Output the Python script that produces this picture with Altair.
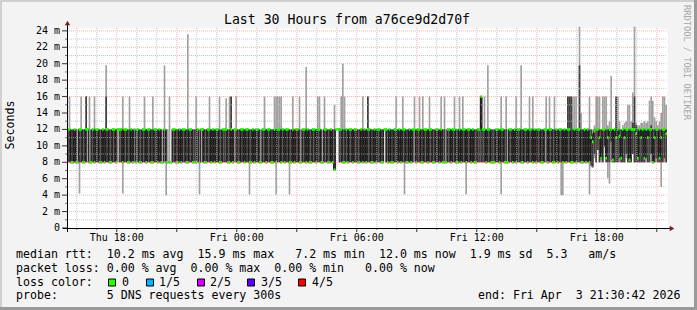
import altair as alt
import pandas as pd

FONT = "DejaVu Sans Mono"

TITLE = "Last 30 Hours from a76ce9d2d70f"
Y_TITLE = "Seconds"
WATERMARK = "RRDTOOL / TOBI OETIKER"

X_SPAN_HOURS = 30.0            # Thu 15:30:42 .. Fri 21:30:42
STEP_HOURS = 5 / 60            # 300 s steps
X_TICK_HOURS = [2.48833, 8.48833, 14.48833, 20.48833, 26.48833]
X_TICK_LABELS = ["Thu 18:00", "Fri 00:00", "Fri 06:00", "Fri 12:00", "Fri 18:00"]
HOUR_MARKS = [0.48833 + k for k in range(30)]          # Thu 16:00 .. Fri 21:00
MAJOR_HOUR_MARKS = [h for k, h in enumerate(HOUR_MARKS) if k % 3 == 2]
MINOR_HOUR_MARKS = [h for k, h in enumerate(HOUR_MARKS) if k % 3 != 2]

Y_MAX = 24.35
Y_LABEL_VALUES = list(range(0, 25, 2))
Y_MINOR_VALUES = list(range(1, 24, 2))

# one char per 300 s step: h/l = median 12/8 ms with dark smoke 8..12,
# H/L = median 12/8 with light smoke only, w/v = median 12/8, no smoke
PATTERN = (
    "hhllhl" "L" "hhllh" "HLlH" "lhhllhlhhllhhl" "w" "hhlhhllhl" "HLH" "llhhlhhllhhlhl" "LHl"
    "Lvv" "hhllhlhhllhhlll" "HLH" "hllhhlhlhhllhhhllhl" "Hh" "llhhlhhllhlhhlLhhl"
    "hhllhlhhlH" "lhhllhlhhl" "Lhhlhllhhl" "hhlLhhllhl" "l" "ww" "hhllHlhhlhhllhlhl"
    "hhllhlhhllwhLhllhhlh" "lhhllhlhHlhhllhhlhhl" "lhhlhllLhhlhhllhlhhl"
    "hhlhllhhlhhlhhlllhhl" "hhllLhhlhlhhllhhlhhl" "hlhhllhHlhhllhlhhlhl"
    "hhllhlhhllhl"
)

# step index -> max ping (ms), light smoke spikes
UP = {1: 16, 8: 16, 11: 16, 13: 16, 16: 16, 23: 19.8, 33: 16, 37: 16, 46: 16, 51: 16,
      58: 19.8, 61: 16, 72: 23.6, 77: 16, 85: 16, 91: 16, 95: 15.8, 97: 16, 98: 16,
      101: 16, 118: 16, 124: 16, 125: 16, 126: 16, 127: 16, 128: 16, 135: 16, 139: 16,
      143: 19.6, 150: 16, 151: 16, 154: 16, 160: 15, 164: 16, 165: 20, 166: 16, 177: 16,
      180: 16, 197: 16, 201: 16, 208: 16, 211: 16, 213: 16, 217: 16, 224: 16, 226: 16,
      232: 16, 235: 16, 237: 16, 248: 16, 250: 16, 252: 19.8, 260: 16, 263: 16, 269: 16,
      272: 19.8, 277: 16, 279: 16, 287: 16, 289: 16, 292: 16, 300: 16, 301: 16, 302: 16,
      303: 16, 304: 16, 305: 16, 307: 24.5, 308: 14}
DARK_UP = {11: 16, 23: 16, 98: 16, 180: 16, 248: 16, 300: 16, 301: 16, 302: 16, 307: 19.8}
DOWN = {7: 4.2, 33: 4.2, 59: 4.0, 79: 4.1, 109: 4.1, 125: 4.1, 133: 4.1, 160: 7.1,
        202: 4.1, 239: 4.1, 260: 4.1, 296: 4.0, 297: 4.0}
DARK_DOWN = {160: 7.1}
MED_FIX = {160: 7.1, 248: 16}

# last 4 hours (steps 312..359), read step by step
RIGHT_MED = [12, 8, 11, 10.5, 11.8, 12, 12, 11, 8.5, 12, 12, 8.5, 11, 12, 12, 8.3, 12, 11,
             12, 11.2, 8.5, 12, 11, 12, 12, 8.3, 12, 12, 12, 11.5, 8.5, 12, 11, 12, 8.5, 12,
             11, 12, 12, 8, 11, 12, 12, 8.5, 11, 12, 12, 11.5]
RIGHT_MIN = [8, 4.1, 7.4, 7.3, 8.5, 8, 9.5, 8, 8, 8, 9.8, 8, 6.1, 5.4, 8, 8, 8, 8, 8, 8, 8,
             8, 8, 8.5, 8, 8, 8, 9, 8, 8, 8, 8, 8, 8, 8, 8, 8, 8, 9, 8, 8, 8, 8, 8, 5, 8, 8, 8]
RIGHT_P2 = [8, 8, 7.6, 7.5, 9, 8, 9.5, 8, 8.3, 8, 10, 8, 8, 8, 10.5, 8, 8, 8, 8, 8.5, 8, 8,
            8, 9, 8, 8, 8, 9, 8, 8, 8, 8, 8, 8, 8, 8.5, 8, 8, 9, 8, 8, 8.5, 8, 8, 8, 8, 8.5, 8]
RIGHT_P4 = [12, 12, 12, 11.5, 12, 12, 12, 12, 12, 12, 12, 12, 12, 12, 12, 12, 12, 16, 12, 12,
            12, 12, 12, 12, 12, 12, 12, 12.8, 16, 12.5, 12, 12, 12, 12, 12, 12, 12, 12, 12.5,
            12, 12, 12, 12, 12, 12, 12, 12, 12]
RIGHT_MAX = [12, 16, 12, 12, 12.5, 16, 16, 16, 12, 16, 16, 16, 12.5, 13, 18.5, 12, 12, 16,
             16, 13, 12, 12.5, 12.8, 13, 15, 15, 13, 16.5, 24.5, 12.8, 12.5, 12.5, 12.8,
             12.8, 13, 12.8, 13, 15.5, 16, 15.5, 13.5, 13, 12.5, 13, 14, 16, 16, 15]

STAT_RTT = "median rtt:  10.2 ms avg  15.9 ms max   7.2 ms min  12.0 ms now  1.9 ms sd  5.3   am/s"
STAT_LOSS = "packet loss: 0.00 % avg  0.00 % max  0.00 % min   0.00 % now"
LOSS_TITLE = "loss color:"
LOSS_LABELS = ["0", "1/5", "2/5", "3/5", "4/5"]
LOSS_COLORS = ["#26ff00", "#00b8ff", "#d400ff", "#5a00ff", "#ff0000"]
PROBE = "probe:       5 DNS requests every 300s"
END = "end: Fri Apr  3 21:30:42 2026"

# ---------------------------------------------------------------- build table
rows = []
for i, c in enumerate(PATTERN):
    med = 12.0 if c in "hHw" else 8.0
    lo1, hi1 = 8.0, 12.0
    if c in "hl":
        lo2, hi2 = 8.0, 12.0
    elif c in "HL":
        lo2 = hi2 = med
    else:
        lo1 = hi1 = lo2 = hi2 = med
    rows.append(dict(i=i, med=MED_FIX.get(i, med), lo1=DOWN.get(i, lo1), hi1=UP.get(i, hi1),
                     lo2=DARK_DOWN.get(i, lo2), hi2=DARK_UP.get(i, hi2)))
for j in range(len(RIGHT_MED)):
    rows.append(dict(i=len(PATTERN) + j, med=RIGHT_MED[j], lo1=RIGHT_MIN[j], hi1=RIGHT_MAX[j],
                     lo2=RIGHT_P2[j], hi2=RIGHT_P4[j]))
df = pd.DataFrame(rows)
df["t"] = df["i"] * STEP_HOURS
df["t2"] = (df["i"] + 1) * STEP_HOURS
GREEN_HALF = 0.17
df["gl"] = df["med"] - GREEN_HALF
df["gh"] = df["med"] + GREEN_HALF

line_df = pd.concat([df[["t", "med"]],
                     pd.DataFrame({"t": [X_SPAN_HOURS], "med": [df["med"].iloc[-1]]})])

XS = alt.Scale(domain=[0, X_SPAN_HOURS], nice=False, zero=False)
YS = alt.Scale(domain=[0, Y_MAX], nice=False, zero=False)


def X(f):
    return alt.X(f, scale=XS, axis=None)


def Y(f):
    return alt.Y(f, scale=YS, axis=None)


def one():
    return alt.Chart(pd.DataFrame({"k": [0]}))


def keep_spaces(s):
    return s.replace(" ", "\u00a0")


def text(s, x, y, **kw):
    props = dict(font=FONT, fontSize=11.6, color="#000000", align="left", baseline="middle")
    props.update(kw)
    return alt.Chart(pd.DataFrame({"s": [keep_spaces(s)]})).mark_text(**props).encode(
        x=alt.value(x), y=alt.value(y), text="s:N")


LIGHT = "#a0a0a0"
DARK = "#3e3e3e"
MEDLINE = "#101010"
GREEN = LOSS_COLORS[0]
ARROW = "#7f1d1d"

light = alt.Chart(df).mark_rect(color=LIGHT, strokeWidth=0).encode(
    x=X("t:Q"), x2="t2:Q", y=Y("lo1:Q"), y2="hi1:Q")
dark = alt.Chart(df).mark_rect(color=DARK, strokeWidth=0).encode(
    x=X("t:Q"), x2="t2:Q", y=Y("lo2:Q"), y2="hi2:Q")
medline = alt.Chart(line_df).mark_line(interpolate="step-after", color=MEDLINE, strokeWidth=1).encode(
    x=X("t:Q"), y=Y("med:Q"))
green = alt.Chart(df).mark_rect(color=GREEN, strokeWidth=0).encode(
    x=X("t:Q"), x2="t2:Q", y=Y("gl:Q"), y2="gh:Q")

MINOR_GRID = dict(color="#b4b4b4", strokeDash=[1, 1], strokeWidth=1, opacity=0.75)
MAJOR_GRID = dict(color="#f07070", strokeDash=[1, 1], strokeWidth=1, opacity=0.5)

gy_minor = alt.Chart(pd.DataFrame({"v": Y_MINOR_VALUES})).mark_rule(**MINOR_GRID).encode(
    y=Y("v:Q"), x=alt.value(0), x2=alt.value(600))
gy_major = alt.Chart(pd.DataFrame({"v": Y_LABEL_VALUES[1:]})).mark_rule(**MAJOR_GRID).encode(
    y=Y("v:Q"), x=alt.value(0), x2=alt.value(600))
gx_minor = alt.Chart(pd.DataFrame({"h": MINOR_HOUR_MARKS})).mark_rule(**MINOR_GRID).encode(
    x=X("h:Q"), y=alt.value(0), y2=alt.value(200))
gx_major = alt.Chart(pd.DataFrame({"h": MAJOR_HOUR_MARKS})).mark_rule(**MAJOR_GRID).encode(
    x=X("h:Q"), y=alt.value(0), y2=alt.value(200))

yticks = alt.Chart(pd.DataFrame({"v": Y_LABEL_VALUES})).mark_rule(color="#333333").encode(
    y=Y("v:Q"), x=alt.value(-5), x2=alt.value(0))
ymticks = alt.Chart(pd.DataFrame({"v": Y_MINOR_VALUES})).mark_rule(color="#777777").encode(
    y=Y("v:Q"), x=alt.value(-2), x2=alt.value(0))
xticks = alt.Chart(pd.DataFrame({"h": MAJOR_HOUR_MARKS})).mark_rule(color="#333333").encode(
    x=X("h:Q"), y=alt.value(200), y2=alt.value(204))
xmticks = alt.Chart(pd.DataFrame({"h": MINOR_HOUR_MARKS})).mark_rule(color="#777777").encode(
    x=X("h:Q"), y=alt.value(200), y2=alt.value(202))

xaxis = one().mark_rule(color="#000000", strokeWidth=1).encode(
    x=alt.value(-4), x2=alt.value(603), y=alt.value(200.5))
yaxis = one().mark_rule(color="#000000", strokeWidth=1).encode(
    x=alt.value(0.5), y=alt.value(-4), y2=alt.value(204))
arrow_up = one().mark_point(shape="triangle-up", filled=True, size=28, color=ARROW, opacity=1).encode(
    x=alt.value(0.5), y=alt.value(-5))
arrow_right = one().mark_point(shape="triangle-right", filled=True, size=28, color=ARROW, opacity=1).encode(
    x=alt.value(605), y=alt.value(200.5))

ylab_df = pd.DataFrame({"v": Y_LABEL_VALUES,
                        "lab": ["0" if v == 0 else f"{v}\u00a0m" for v in Y_LABEL_VALUES]})
ylabels = alt.Chart(ylab_df).mark_text(font=FONT, fontSize=10, align="right", baseline="middle",
                                       color="#000000").encode(
    y=Y("v:Q"), x=alt.value(-7), text="lab:N")
xlab_df = pd.DataFrame({"h": X_TICK_HOURS, "lab": [keep_spaces(s) for s in X_TICK_LABELS]})
xlabels = alt.Chart(xlab_df).mark_text(font=FONT, fontSize=10, align="center", baseline="middle",
                                       color="#000000").encode(
    x=X("h:Q"), y=alt.value(209.5), text="lab:N")

# legend squares (layout in pixels relative to plot origin)
LOSS_BOX_X = [41, 79, 130, 180, 231]
LOSS_TEXT_X = [55, 92, 143, 194, 245]
boxes = []
for k in range(len(LOSS_LABELS)):
    boxes.append(one().mark_rect(color=LOSS_COLORS[k], stroke="#000000", strokeWidth=1).encode(
        x=alt.value(LOSS_BOX_X[k] + 0.5), x2=alt.value(LOSS_BOX_X[k] + 7.5),
        y=alt.value(251), y2=alt.value(258)))
    boxes.append(text(LOSS_LABELS[k], LOSS_TEXT_X[k], 254.5))

frame = [
    one().mark_rule(color="#9a9a9a", strokeWidth=3).encode(
        x=alt.value(-67), x2=alt.value(630), y=alt.value(280.5)),
    one().mark_rule(color="#9a9a9a", strokeWidth=3).encode(
        x=alt.value(628.5), y=alt.value(-28), y2=alt.value(282)),
    one().mark_rule(color="#d0d0d0", strokeWidth=2).encode(
        x=alt.value(-67), x2=alt.value(627), y=alt.value(-27)),
    one().mark_rule(color="#d0d0d0", strokeWidth=2).encode(
        x=alt.value(-66), y=alt.value(-28), y2=alt.value(279)),
]

labels = [
    text(TITLE, 280, -8.5, fontSize=13.2, align="center"),
    text(Y_TITLE, -56, 97, angle=270, align="center"),
    text(WATERMARK, 620, -23, fontSize=8.7, angle=90, color="#a8a8a8"),
    text(STAT_RTT, -51, 227),
    text(STAT_LOSS, -51, 240.5),
    text(LOSS_TITLE, -51, 254.5),
    text(PROBE, -51, 268),
    text(END, 411, 268),
]

chart = alt.layer(
    light, dark, medline, green,
    gy_minor, gy_major, gx_minor, gx_major,
    yticks, ymticks, xticks, xmticks, xaxis, yaxis, arrow_up, arrow_right,
    ylabels, xlabels, *boxes, *frame, *labels
).properties(
    width=600, height=200,
    padding={"left": 67, "top": 28, "right": 30, "bottom": 82},
    autosize=alt.AutoSizeParams(type="none"),
).configure(background="#f3f3f3").configure_view(fill="white", stroke="transparent")

chart.save("out.html", embed_options={"renderer": "svg", "actions": False})
